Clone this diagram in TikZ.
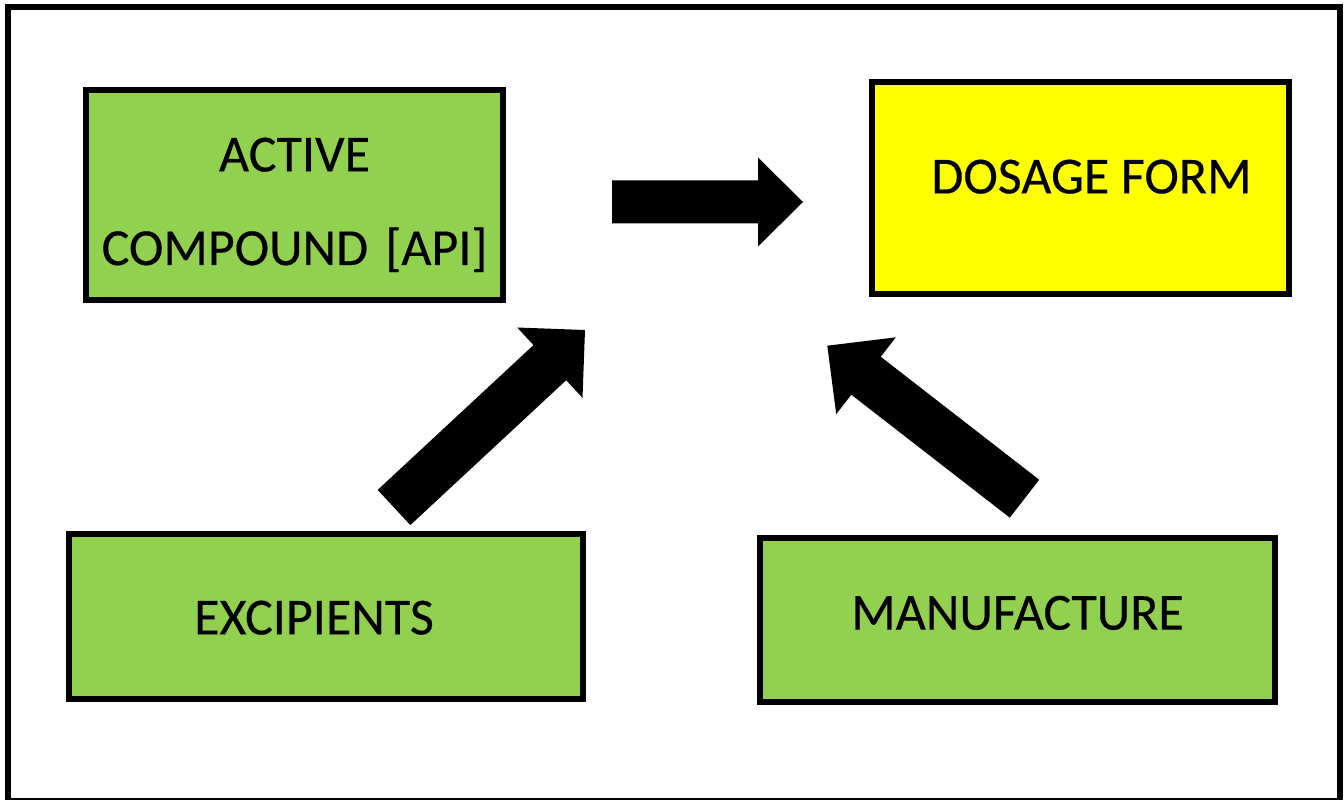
\documentclass[tikz,border=0pt]{standalone}
\usepackage{fontspec}
\setmainfont{Carlito}[FakeBold=0.35]
\usetikzlibrary{calc}

\definecolor{boxgreen}{HTML}{92D050}
\definecolor{boxyellow}{HTML}{FFFF00}

% block arrow: tail, tip, half shaft, half head, head length
\newcommand{\fatarrow}[5]{%
   \coordinate (hb) at ($(#2)!#5!(#1)$);
   \fill ($(#1)!#3!90:(#2)$) -- ($(hb)!#3!90:(#2)$) -- ($(hb)!#4!90:(#2)$)
      -- (#2) -- ($(hb)!#4!-90:(#2)$) -- ($(hb)!#3!-90:(#2)$)
      -- ($(#1)!#3!-90:(#2)$) -- cycle;
}

\begin{document}
\begin{tikzpicture}[x=0.5pt,y=0.5pt]
   \tikzset{Box/.style={draw,line width=2.8pt,inner sep=0pt,align=center,
      font=\fontsize{26}{46.8}\selectfont}}
   \tikzset{GreenBox/.style={Box,fill=boxgreen}}
   \tikzset{YellowBox/.style={Box,fill=boxyellow}}
   \useasboundingbox (0,0) rectangle (1344,799);
   \draw[line width=3pt] (8,-1.5) rectangle (1340,792);
   \node[GreenBox,minimum width=208.5pt,minimum height=105pt,text width=200pt,
      text height=16.4pt,text depth=40pt] (api) at (294.5,604) {ACTIVE\\COMPOUND~[API]};
   \node[YellowBox,minimum width=208.5pt,minimum height=105.8pt,
      text height=16.4pt,text depth=11pt] (dosage) at (1080.5,611) {\hspace*{11pt}DOSAGE FORM};
   \node[GreenBox,minimum width=257pt,minimum height=82.5pt,
      text height=17.9pt,text depth=0pt] (excip) at (326,182.5) {EXCIPIENTS\hspace*{12pt}};
   \node[GreenBox,minimum width=257.5pt,minimum height=82pt,
      text height=16.4pt,text depth=6.8pt] (manuf) at (1017.5,179) {MANUFACTURE};
   \coordinate (r0) at (612,597);
   \coordinate (r1) at (803,597);
   \coordinate (e0) at (394,291.5);
   \coordinate (e1) at (585,469);
   \coordinate (m0) at (1024.5,300.3);
   \coordinate (m1) at (827.3,453.3);
   \fatarrow{r0}{r1}{10.75pt}{22.25pt}{22.5pt}
   \fatarrow{e0}{e1}{12pt}{24pt}{24pt}
   \fatarrow{m0}{m1}{12pt}{24.3pt}{24.5pt}
\end{tikzpicture}
\end{document}
